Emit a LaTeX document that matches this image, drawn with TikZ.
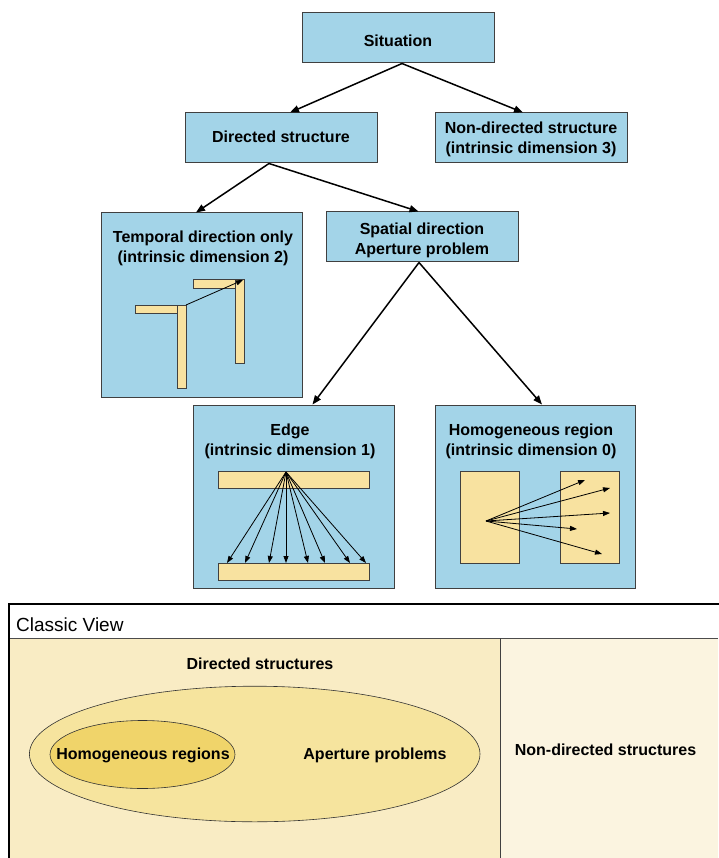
\documentclass[tikz,border=0pt]{standalone}
\usepackage{fontspec}
\setmainfont{Liberation Sans}
\usetikzlibrary{arrows.meta,shapes.geometric}
\definecolor{boxblue}{RGB}{163,212,232}
\definecolor{boxedge}{RGB}{64,64,64}
\definecolor{barfill}{RGB}{248,226,160}
\definecolor{cvleft}{RGB}{249,236,196}
\definecolor{cvright}{RGB}{251,244,224}
\definecolor{ellout}{RGB}{246,228,158}
\definecolor{ellin}{RGB}{240,212,106}
\begin{document}
\begin{tikzpicture}[x=1pt,y=-1pt,
  box/.style={draw=boxedge, fill=boxblue, line width=1pt, inner sep=0pt},
  tree/.style={line width=1.5pt, -{Triangle[length=9pt,width=7pt]}},
  thinarrow/.style={line width=0.8pt, -{Triangle[length=7pt,width=5pt]}},
  barstyle/.style={draw=boxedge, fill=barfill, line width=0.8pt},
  lbl/.style={font=\bfseries\fontsize{16}{20}\selectfont, align=center, inner sep=0pt},
  ell/.style={ellipse, draw=black!80, line width=0.6pt, inner sep=0pt}]
\useasboundingbox (0,0) rectangle (718,858);
\fill[white] (0,0) rectangle (718,858);

% ---------- tree boxes ----------
\node[box, minimum width=192, minimum height=50] (sit) at (398,38) {};
\node[box, minimum width=192, minimum height=50] (dir) at (281,138) {};
\node[box, minimum width=192, minimum height=50] (non) at (531,138) {};
\node[box, minimum width=201, minimum height=184] (temp) at (201.5,305) {};
\node[box, minimum width=192, minimum height=50] (spat) at (422,237) {};
\node[box, minimum width=201, minimum height=183] (edge) at (293.5,496.5) {};
\node[box, minimum width=200, minimum height=183] (homo) at (535,496.5) {};

\node[lbl] (sitlbl) at (398,41) {Situation};
\node[lbl] (dirlbl) at (281,137) {Directed structure};
\node[lbl] (nonlbl) at (531,139.5) {Non-directed structure\\(intrinsic dimension 3)};
\node[lbl] (spatlbl) at (422,240) {Spatial direction\\Aperture problem};
\node[lbl] (templbl) at (203,248) {Temporal direction only\\(intrinsic dimension 2)};
\node[lbl] (edgelbl) at (290,441) {Edge\\(intrinsic dimension 1)};
\node[lbl] (homolbl) at (531,441) {Homogeneous region\\(intrinsic dimension 0)};

% ---------- tree connectors ----------
\draw[tree] ([xshift=4pt]sit.south) -- ([xshift=9pt]dir.north);
\draw[tree] ([xshift=4pt]sit.south) -- ([xshift=-8pt]non.north);
\draw[tree] ([xshift=-12pt]dir.south) -- ([xshift=-5.5pt]temp.north);
\draw[tree] ([xshift=-12pt]dir.south) -- ([xshift=-3.5pt]spat.north);
\draw[tree] ([xshift=-3pt]spat.south) -- ([xshift=19pt]edge.north);
\draw[tree] ([xshift=-3pt]spat.south) -- ([xshift=7pt]homo.north);

% ---------- temporal drawing ----------
\draw[barstyle] (135,305) rectangle (178,313);
\draw[barstyle] (177,305) rectangle (186,388);
\draw[barstyle] (193,279) rectangle (236,288);
\draw[barstyle] (235,279) rectangle (244,363);
\coordinate (tA) at (186,305);
\coordinate (tB) at (243,280);
\draw[thinarrow] (tA) -- (tB);

% ---------- edge drawing ----------
\draw[barstyle] (218,471) rectangle (369,488);
\draw[barstyle] (218,563) rectangle (369,580);
\coordinate (eS) at (286,472);
\foreach \xx [count=\i] in {227,245,269,286,308,325,350,366}{
  \coordinate (eT\i) at (\xx,563);
  \draw[thinarrow] (eS) -- (eT\i);
}

% ---------- homogeneous drawing ----------
\draw[barstyle] (460,471) rectangle (519,563);
\draw[barstyle] (560,471) rectangle (619,563);
\coordinate (hS) at (486,521);
\foreach \xx/\yy [count=\i] in {585/480,610/488,610/513,577/529,602/554}{
  \coordinate (hT\i) at (\xx,\yy);
  \draw[thinarrow] (hS) -- (hT\i);
}

% ---------- classic view ----------
\fill[cvleft] (9,638) rectangle (500,858);
\fill[cvright] (500,638) rectangle (718,858);
\draw[black!70, line width=0.8pt] (9,638) -- (718,638);
\draw[boxedge, line width=0.8pt] (500,638) -- (500,858);
\draw[black, line width=1.3pt] (9,860) -- (9,604) -- (720,604);
\node[anchor=base west, inner sep=0pt, font=\fontsize{19}{22}\selectfont] (cvtitle) at (16,631) {Classic View};

\node[ell, fill=ellout, minimum width=450.6, minimum height=135.6] (outer) at (254.7,754) {};
\node[ell, fill=ellin, minimum width=185, minimum height=68] (inner) at (142.5,754.5) {};

\node[lbl] (dstr) at (260,664) {Directed structures};
\node[lbl] (hreg) at (143,755) {Homogeneous regions};
\node[lbl] (aprob) at (375,755) {Aperture problems};
\node[lbl] (ndstr) at (605.5,750) {Non-directed structures};
\end{tikzpicture}
\end{document}
